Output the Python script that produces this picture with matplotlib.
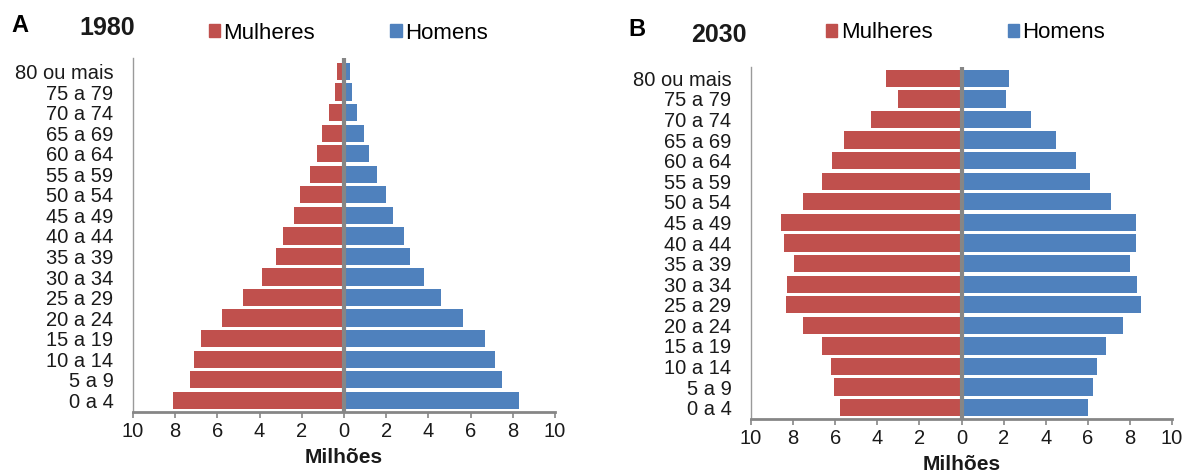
import matplotlib
matplotlib.use("Agg")
import matplotlib.pyplot as plt
from matplotlib.patches import Patch

plt.rcParams['font.family'] = ['Liberation Sans', 'DejaVu Sans']

# faixas etárias, de baixo para cima
faixas = ['0 a 4', '5 a 9', '10 a 14', '15 a 19', '20 a 24', '25 a 29', '30 a 34',
          '35 a 39', '40 a 44', '45 a 49', '50 a 54', '55 a 59', '60 a 64',
          '65 a 69', '70 a 74', '75 a 79', '80 ou mais']

# população em milhões
mulheres_1980 = [8.1, 7.3, 7.1, 6.8, 5.8, 4.8, 3.9, 3.2, 2.9, 2.35, 2.1, 1.6, 1.3, 1.05, 0.7, 0.45, 0.35]
homens_1980 = [8.3, 7.5, 7.15, 6.7, 5.65, 4.6, 3.8, 3.15, 2.85, 2.3, 2.0, 1.55, 1.2, 0.95, 0.6, 0.4, 0.3]
mulheres_2030 = [5.75, 6.07, 6.19, 6.63, 7.52, 8.33, 8.28, 7.96, 8.42, 8.56, 7.52, 6.62, 6.16, 5.59, 4.32, 3.0, 3.59]
homens_2030 = [6.0, 6.23, 6.44, 6.85, 7.68, 8.53, 8.35, 8.0, 8.27, 8.3, 7.11, 6.1, 5.43, 4.51, 3.31, 2.12, 2.28]

ticks_x = [-10, -8, -6, -4, -2, 0, 2, 4, 6, 8, 10]
ticks_lbl = ['10', '8', '6', '4', '2', '0', '2', '4', '6', '8', '10']

VERMELHO = '#C0504D'
AZUL = '#4F81BD'
CINZA = '#868686'
TXT = '#1a1a1a'

W, H = 1184, 473
fig = plt.figure(figsize=(W / 100, H / 100), dpi=100)


def px_axes(x0, y0, x1, y1):
    return fig.add_axes([x0 / W, 1 - y1 / H, (x1 - x0) / W, (y1 - y0) / H])


def piramide(ax, mulheres, homens, ylim, leg_y):
    y = list(range(len(faixas)))
    ax.barh(y, [-m for m in mulheres], height=0.84, color=VERMELHO)
    ax.barh(y, homens, height=0.84, color=AZUL)
    ax.axvline(0, color=CINZA, lw=3, zorder=5)
    ax.set_xlim(-10, 10)
    ax.set_ylim(*ylim)
    ax.set_yticks(y)
    ax.set_yticklabels(faixas, fontsize=14.5, color=TXT)
    ax.set_xticks(ticks_x)
    ax.set_xticklabels(ticks_lbl, fontsize=14.5, color=TXT)
    ax.tick_params(axis='y', length=0, pad=14)
    ax.tick_params(axis='x', length=4, width=1.2, color=CINZA, pad=3)
    for s in ['top', 'right']:
        ax.spines[s].set_visible(False)
    ax.spines['left'].set_color('#9a9a9a')
    ax.spines['left'].set_linewidth(1)
    ax.spines['bottom'].set_color(CINZA)
    ax.spines['bottom'].set_linewidth(2)
    ax.set_xlabel('Milhões', fontsize=15, fontweight='bold', color=TXT, labelpad=5)
    handles = [Patch(color=VERMELHO, label='Mulheres'), Patch(color=AZUL, label='Homens')]
    ax.legend(handles=handles, ncol=2, loc='center', bbox_to_anchor=(0.51, leg_y),
              frameon=False, fontsize=16, handlelength=0.5, handleheight=0.5,
              handletextpad=0.15, columnspacing=3.4, borderaxespad=0)


ax1 = px_axes(133, 58, 555, 412)
piramide(ax1, mulheres_1980, homens_1980, (-0.57, 16.66), 1.07)

ax2 = px_axes(751, 67, 1172, 419)
piramide(ax2, mulheres_2030, homens_2030, (-0.55, 16.55), 1.097)

fig.text(11 / W, 1 - 25 / H, 'A', fontsize=17, fontweight='bold', va='center', ha='left')
fig.text(79 / W, 1 - 28 / H, '1980', fontsize=18, fontweight='bold', va='center', ha='left', color=TXT)
fig.text(628 / W, 1 - 30 / H, 'B', fontsize=17, fontweight='bold', va='center', ha='left')
fig.text(691 / W, 1 - 35 / H, '2030', fontsize=18, fontweight='bold', va='center', ha='left', color=TXT)

fig.savefig('out.png', dpi=100)
